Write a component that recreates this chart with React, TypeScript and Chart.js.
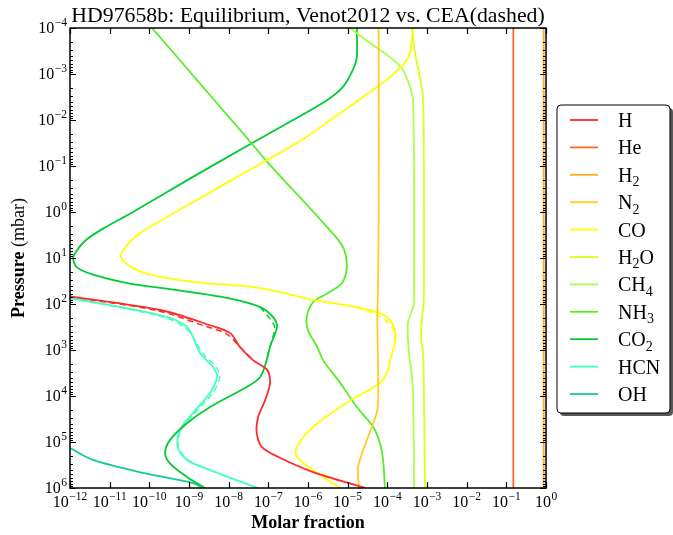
import React, { useEffect, useRef } from "react";
import { Chart, registerables } from "chart.js";

Chart.register(...registerables);

const TITLE = "HD97658b: Equilibrium, Venot2012 vs. CEA(dashed)";
const X_TITLE = "Molar fraction";
const Y_TITLE_BOLD = "Pressure";
const Y_TITLE_REST = " (mbar)";

const X_MIN = 1e-12;
const X_MAX = 1;
const Y_MIN = 1e-4;
const Y_MAX = 1e6;
const X_TICK_VALUES = [1e-12, 1e-11, 1e-10, 1e-9, 1e-8, 1e-7, 1e-6, 1e-5, 1e-4, 1e-3, 1e-2, 1e-1, 1];
const X_TICK_EXPS = ["−12", "−11", "−10", "−9", "−8", "−7", "−6", "−5", "−4", "−3", "−2", "−1", "0"];
const Y_TICK_VALUES = [1e-4, 1e-3, 1e-2, 1e-1, 1, 1e1, 1e2, 1e3, 1e4, 1e5, 1e6];
const Y_TICK_EXPS = ["−4", "−3", "−2", "−1", "0", "1", "2", "3", "4", "5", "6"];
const MINOR_MULTS = [2, 3, 4, 5, 6, 7, 8, 9];

const SPECIES = ["H", "He", "H_2", "N_2", "CO", "H_2O", "CH_4", "NH_3", "CO_2", "HCN", "OH"];
const COLORS = ["#ff2a2a", "#ff6a2a", "#ffaa22", "#ffcc22", "#ffff00", "#ddff11", "#aaff44", "#55ee22", "#00cc33", "#44ffbb", "#11cc99"];

// Venot2012 profiles: molar fraction vs pressure (mbar)
const H_FRAC = [1.0e-12, 1.9e-10, 3.4e-9, 1.1e-8, 1.9e-8, 4.1e-8, 9.3e-8, 1.1e-7, 8.3e-8, 5.5e-8, 5.1e-8, 6.9e-8, 1.95e-7, 1.35e-6, 2.8e-5];
const H_PRES = [68, 135, 290, 430, 850, 1660, 2700, 5200, 1.23e4, 2.9e4, 6.3e4, 1.29e5, 2.2e5, 4.5e5, 1e6];

const HE_FRAC = [0.15, 0.15];
const HE_PRES = [1e-4, 1e6];

const H2_FRAC = [0.87, 0.87];
const H2_PRES = [1e-4, 1e6];

const N2_FRAC = [6.0e-5, 6.1e-5, 5.9e-5, 5.6e-5, 5.9e-5, 5.6e-5, 3.6e-5, 2.3e-5, 1.8e-5, 1.95e-5];
const N2_PRES = [1e-4, 0.05, 18, 224, 5200, 2.0e4, 6.3e4, 1.74e5, 3.9e5, 1e6];

const CO_FRAC = [4.5e-4, 3.7e-4, 2.75e-4, 1.17e-4, 4.4e-5, 1.29e-5, 4.8e-6, 7.1e-7, 7.8e-8, 9.1e-9, 4.2e-10, 5.8e-11, 2.5e-11, 1.95e-11, 3.9e-11, 1.05e-10, 1.26e-9, 6.2e-8, 1.35e-6, 1.7e-5, 6.5e-5, 1.17e-4, 1.55e-4, 1.55e-4, 1.17e-4, 1.05e-4, 6.5e-5, 9.5e-6, 1.35e-6, 5.2e-7, 5.2e-7, 1.35e-6, 6.5e-6];
const CO_PRES = [1e-4, 3.5e-4, 5.75e-4, 1.17e-3, 2.2e-3, 4.7e-3, 8.5e-3, 0.027, 0.081, 0.23, 1.05, 2.9, 5.75, 10, 16.6, 23, 33, 45, 81, 117, 158, 224, 372, 710, 1660, 2700, 5200, 1.4e4, 4.7e4, 1.29e5, 2.1e5, 4.1e5, 1e6];

const H2O_FRAC = [4.2e-4, 5.0e-4, 6.6e-4, 7.9e-4, 8.3e-4, 8.3e-4, 7.4e-4, 7.1e-4, 7.9e-4, 8.3e-4, 8.9e-4];
const H2O_PRES = [1e-4, 3.5e-4, 1.17e-3, 3.2e-3, 0.045, 81, 224, 525, 1175, 5200, 1e6];

const CH4_FRAC = [1.15e-5, 3.6e-5, 1.17e-4, 2.45e-4, 3.7e-4, 4.5e-4, 4.7e-4, 4.2e-4, 3.3e-4, 3.3e-4, 3.5e-4, 4.2e-4, 4.5e-4, 4.7e-4];
const CH4_PRES = [1e-4, 2.1e-4, 4.3e-4, 8.1e-4, 1.9e-3, 4.3e-3, 95, 135, 257, 525, 1175, 3900, 1.05e4, 1e6];

const NH3_FRAC = [1.17e-10, 4.1e-8, 9.3e-8, 3.0e-6, 7.6e-6, 9.5e-6, 7.2e-6, 3.5e-6, 1.35e-6, 9.3e-7, 1.0e-6, 1.7e-6, 2.4e-6, 6.5e-6, 1.7e-5, 4.4e-5, 6.5e-5, 7.8e-5, 8.7e-5];
const NH3_PRES = [1e-4, 0.035, 0.081, 2.1, 5.75, 16, 35, 55, 91, 190, 372, 850, 1660, 5200, 1.74e4, 4.7e4, 1.05e5, 2.45e5, 1e6];

const CO2_FRAC = [1.7e-5, 1.7e-5, 1.35e-5, 7.6e-6, 3.0e-6, 4.2e-7, 3.2e-8, 9.3e-10, 3.5e-11, 6.8e-12, 2.5e-12, 1.5e-12, 1.2e-12, 1.5e-12, 3.8e-12, 2.75e-11, 5.0e-10, 9.1e-9, 6.2e-8, 1.3e-7, 1.65e-7, 1.1e-7, 8.7e-8, 6.2e-8, 2.9e-8, 3.4e-9, 8.9e-10, 3.3e-10, 2.5e-10, 3.3e-10, 8.9e-10, 2.5e-9];
const CO2_PRES = [1e-4, 4.3e-4, 8.1e-4, 1.9e-3, 3.7e-3, 0.01, 0.035, 0.2, 1.05, 2.3, 4.1, 6.8, 10, 16, 23, 35, 50, 74, 117, 190, 316, 850, 1900, 3900, 6300, 1.74e4, 3.9e4, 9.1e4, 1.74e5, 2.9e5, 5.75e5, 1e6];

const HCN_FRAC = [1e-12, 2.75e-11, 3.3e-10, 8.9e-10, 1.26e-9, 1.9e-9, 4.0e-9, 5.1e-9, 3.4e-9, 1.26e-9, 5.9e-10, 5.2e-10, 8.9e-10, 3.4e-9, 1.6e-8, 5.5e-8];
const HCN_PRES = [74, 123, 200, 316, 525, 1175, 2340, 3890, 8500, 2.34e4, 5.5e4, 1.29e5, 2.45e5, 4.1e5, 6.8e5, 1e6];

const OH_FRAC = [1e-12, 3.8e-12, 6.9e-11, 1.26e-9, 2.2e-9];
const OH_PRES = [1.35e5, 2.45e5, 4.7e5, 7.8e5, 1e6];

// CEA profiles (dashed), where they differ visibly
const H_CEA_FRAC = [1e-12, 1.6e-10, 2.6e-9, 9.0e-9, 1.9e-8, 4.1e-8];
const H_CEA_PRES = [70, 140, 305, 450, 850, 1660];
const HCN_CEA_FRAC = [1e-12, 2.5e-11, 2.9e-10, 8.0e-10, 1.3e-9, 2.2e-9, 4.8e-9, 6.0e-9, 4.0e-9, 1.4e-9, 6.2e-10, 5.4e-10, 9.5e-10, 3.4e-9];
const HCN_CEA_PRES = [76, 126, 205, 330, 540, 1175, 2340, 3890, 8500, 2.34e4, 5.5e4, 1.29e5, 2.45e5, 4.1e5];
const CO2_CEA_FRAC = [6.2e-8, 1.1e-7, 1.45e-7, 1.1e-7, 8.7e-8];
const CO2_CEA_PRES = [117, 210, 330, 850, 1900];
const CO_CEA_FRAC = [1.7e-5, 5.0e-5, 9.5e-5, 1.45e-4, 1.55e-4];
const CO_CEA_PRES = [120, 165, 235, 372, 710];

const VENOT = [
  [H_FRAC, H_PRES],
  [HE_FRAC, HE_PRES],
  [H2_FRAC, H2_PRES],
  [N2_FRAC, N2_PRES],
  [CO_FRAC, CO_PRES],
  [H2O_FRAC, H2O_PRES],
  [CH4_FRAC, CH4_PRES],
  [NH3_FRAC, NH3_PRES],
  [CO2_FRAC, CO2_PRES],
  [HCN_FRAC, HCN_PRES],
  [OH_FRAC, OH_PRES],
];

const CEA: [number, number[], number[]][] = [
  [0, H_CEA_FRAC, H_CEA_PRES],
  [9, HCN_CEA_FRAC, HCN_CEA_PRES],
  [8, CO2_CEA_FRAC, CO2_CEA_PRES],
  [4, CO_CEA_FRAC, CO_CEA_PRES],
];

const SERIF = '"Liberation Serif", "DejaVu Serif", serif';

function zip(xs: number[], ys: number[]) {
  return xs.map((x, i) => ({ x, y: ys[i] }));
}

function drawSubLabel(ctx: CanvasRenderingContext2D, label: string, x: number, y: number, size: number) {
  let cx = x;
  for (let i = 0; i < label.length; i++) {
    const ch = label[i];
    if (ch === "_" && i + 1 < label.length) {
      const s = label[i + 1];
      ctx.font = `${Math.round(size * 0.7)}px ${SERIF}`;
      ctx.fillText(s, cx, y + size * 0.22);
      cx += ctx.measureText(s).width;
      i++;
    } else {
      ctx.font = `${size}px ${SERIF}`;
      ctx.fillText(ch, cx, y);
      cx += ctx.measureText(ch).width;
    }
  }
}

function drawPow(ctx: CanvasRenderingContext2D, exp: string, x: number, y: number, align: "center" | "right") {
  const bigF = `16px ${SERIF}`;
  const smallF = `11.5px ${SERIF}`;
  ctx.font = bigF;
  const wb = ctx.measureText("10").width;
  ctx.font = smallF;
  const we = ctx.measureText(exp).width;
  const total = wb + we + 0.5;
  const start = align === "center" ? x - total / 2 : x - total;
  ctx.textAlign = "left";
  ctx.font = bigF;
  ctx.fillText("10", start, y);
  ctx.font = smallF;
  ctx.fillText(exp, start + wb + 0.5, y - 7);
}

const decorPlugin = {
  id: "decor",
  afterDraw(chart: any) {
    const ctx: CanvasRenderingContext2D = chart.ctx;
    const area = chart.chartArea;
    const xs = chart.scales.x;
    const ys = chart.scales.y;
    ctx.save();
    ctx.fillStyle = "#000";
    ctx.strokeStyle = "#000";
    // frame
    ctx.lineWidth = 1.5;
    ctx.strokeRect(area.left, area.top, area.right - area.left, area.bottom - area.top);
    // x ticks
    ctx.lineWidth = 1.2;
    ctx.beginPath();
    X_TICK_VALUES.forEach((v) => {
      const px = Math.round(xs.getPixelForValue(v)) + 0.5;
      ctx.moveTo(px, area.bottom);
      ctx.lineTo(px, area.bottom - 6);
      ctx.moveTo(px, area.top);
      ctx.lineTo(px, area.top + 6);
    });
    // y ticks
    Y_TICK_VALUES.forEach((v, i) => {
      const py = Math.round(ys.getPixelForValue(v)) + 0.5;
      ctx.moveTo(area.left, py);
      ctx.lineTo(area.left + 6, py);
      ctx.moveTo(area.right, py);
      ctx.lineTo(area.right - 6, py);
      if (i < Y_TICK_VALUES.length - 1) {
        MINOR_MULTS.forEach((m) => {
          const pm = Math.round(ys.getPixelForValue(v * m)) + 0.5;
          ctx.moveTo(area.left, pm);
          ctx.lineTo(area.left + 3, pm);
          ctx.moveTo(area.right, pm);
          ctx.lineTo(area.right - 3, pm);
        });
      }
    });
    ctx.stroke();
    // tick labels
    ctx.textBaseline = "alphabetic";
    X_TICK_VALUES.forEach((v, i) => {
      drawPow(ctx, X_TICK_EXPS[i], xs.getPixelForValue(v), area.bottom + 19, "center");
    });
    Y_TICK_VALUES.forEach((v, i) => {
      drawPow(ctx, Y_TICK_EXPS[i], area.left - 3, ys.getPixelForValue(v) + 5, "right");
    });
    // title
    ctx.textAlign = "center";
    ctx.font = `21.8px ${SERIF}`;
    ctx.fillText(TITLE, (area.left + area.right) / 2, 22);
    // x axis title
    ctx.font = `bold 18px ${SERIF}`;
    ctx.fillText(X_TITLE, (area.left + area.right) / 2, area.bottom + 40);
    // y axis title
    ctx.save();
    ctx.translate(24, (area.top + area.bottom) / 2);
    ctx.rotate(-Math.PI / 2);
    ctx.font = `bold 18px ${SERIF}`;
    const wB = ctx.measureText(Y_TITLE_BOLD).width;
    ctx.font = `18px ${SERIF}`;
    const wR = ctx.measureText(Y_TITLE_REST).width;
    ctx.textAlign = "left";
    ctx.font = `bold 18px ${SERIF}`;
    ctx.fillText(Y_TITLE_BOLD, -(wB + wR) / 2, 0);
    ctx.font = `18px ${SERIF}`;
    ctx.fillText(Y_TITLE_REST, -(wB + wR) / 2 + wB, 0);
    ctx.restore();
    // legend
    const LX = 557, LY = 105, LW = 113, LH = 308;
    ctx.fillStyle = "rgba(60,60,60,0.85)";
    ctx.beginPath();
    ctx.roundRect(LX + 3, LY + 3, LW, LH, 4);
    ctx.fill();
    ctx.fillStyle = "#fff";
    ctx.beginPath();
    ctx.roundRect(LX, LY, LW, LH, 4);
    ctx.fill();
    ctx.lineWidth = 1;
    ctx.strokeStyle = "#000";
    ctx.stroke();
    ctx.textAlign = "left";
    SPECIES.forEach((s, i) => {
      const cy = LY + 15 + i * 27.4;
      ctx.strokeStyle = COLORS[i];
      ctx.lineWidth = 1.8;
      ctx.beginPath();
      ctx.moveTo(LX + 13, cy);
      ctx.lineTo(LX + 41, cy);
      ctx.stroke();
      ctx.fillStyle = "#000";
      drawSubLabel(ctx, s, LX + 61, cy + 7, 20);
    });
    ctx.restore();
  },
};

export default function App() {
  const ref = useRef<HTMLCanvasElement>(null);
  useEffect(() => {
    const datasets: any[] = [];
    VENOT.forEach(([fx, py], i) => {
      datasets.push({
        label: SPECIES[i],
        data: zip(fx, py),
        borderColor: COLORS[i],
        backgroundColor: COLORS[i],
        borderWidth: 1.8,
        pointRadius: 0,
        showLine: true,
        tension: 0.3,
        clip: 0,
      });
    });
    CEA.forEach(([idx, fx, py]) => {
      datasets.push({
        label: SPECIES[idx] + " CEA",
        data: zip(fx, py),
        borderColor: COLORS[idx],
        backgroundColor: COLORS[idx],
        borderWidth: 1.5,
        borderDash: [6, 4],
        pointRadius: 0,
        showLine: true,
        tension: 0.3,
        clip: 0,
      });
    });
    const chart = new Chart(ref.current as HTMLCanvasElement, {
      type: "scatter",
      data: { datasets },
      options: {
        responsive: false,
        animation: false,
        devicePixelRatio: 1,
        layout: { padding: { left: 0, top: 28, right: 127, bottom: 0 } },
        plugins: { legend: { display: false }, tooltip: { enabled: false }, title: { display: false } },
        scales: {
          x: {
            type: "logarithmic",
            min: X_MIN,
            max: X_MAX,
            ticks: { display: false },
            grid: { display: false },
            border: { display: false },
            afterFit: (s: any) => {
              s.height = 47;
            },
          },
          y: {
            type: "logarithmic",
            reverse: true,
            min: Y_MIN,
            max: Y_MAX,
            ticks: { display: false },
            grid: { display: false },
            border: { display: false },
            afterFit: (s: any) => {
              s.width = 70;
            },
          },
        },
      } as any,
      plugins: [decorPlugin],
    });
    return () => chart.destroy();
  }, []);
  return (
    <div style={{ position: "fixed", left: 0, top: 0, width: 673, height: 535, background: "#fff" }}>
      <canvas ref={ref} width={673} height={535} style={{ display: "block", width: 673, height: 535 }} />
    </div>
  );
}
